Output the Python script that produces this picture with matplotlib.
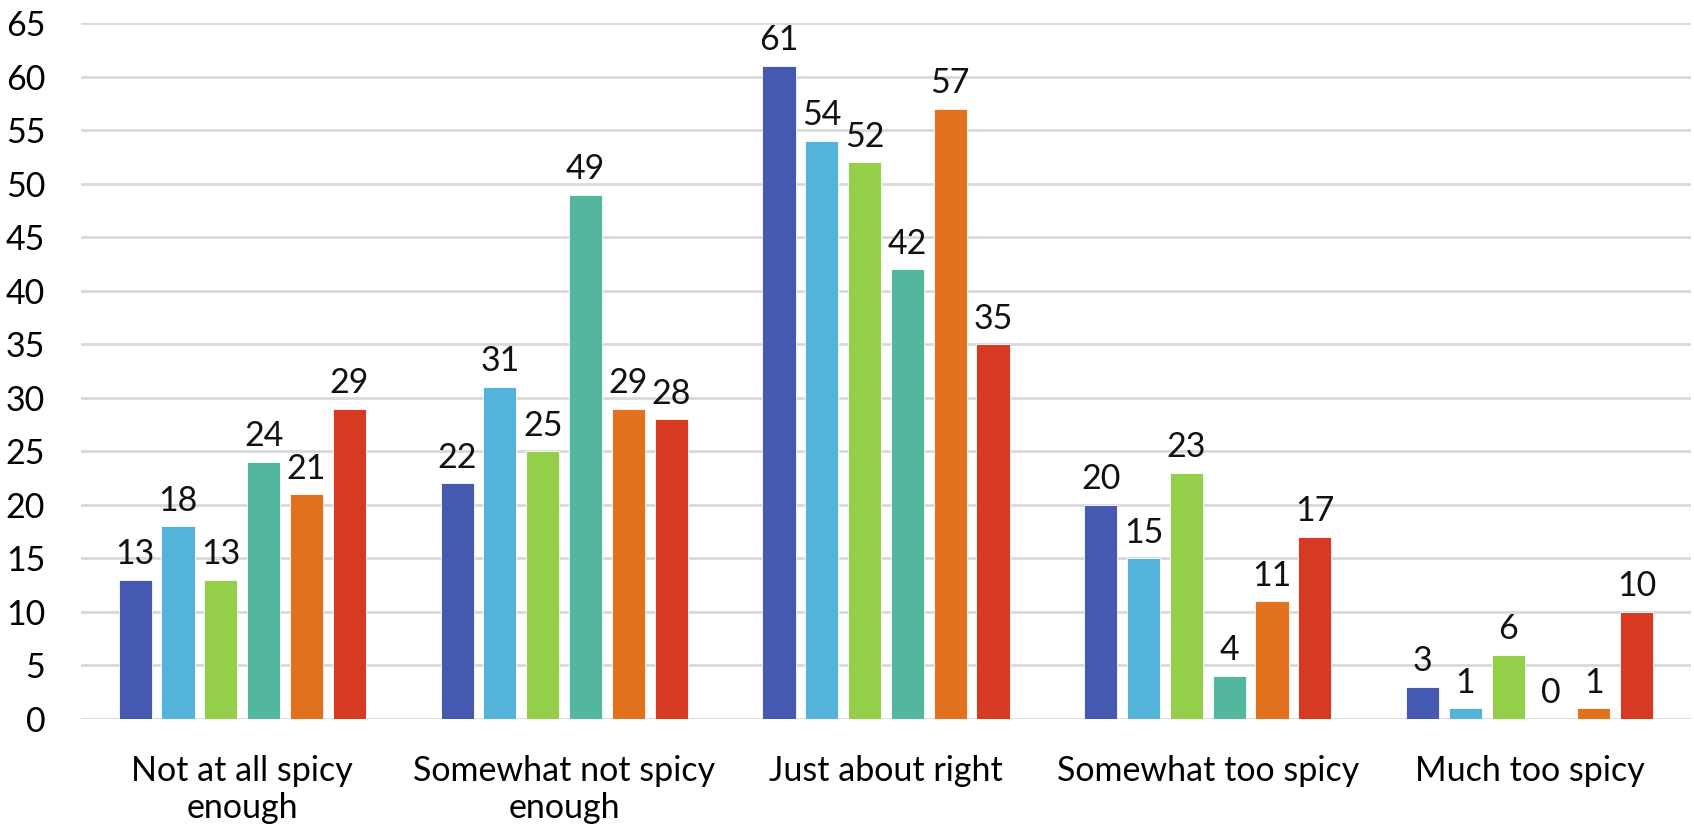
import numpy as np
from matplotlib import pyplot as plt

plt.rcParams['font.family'] = ['Lato', 'DejaVu Sans']

#Survey answers, one list per group of respondents
categories = ['Not at all spicy\nenough', 'Somewhat not spicy\nenough', 'Just about right',
              'Somewhat too spicy', 'Much too spicy']
series = [
    [13, 22, 61, 20, 3],
    [18, 31, 54, 15, 1],
    [13, 25, 52, 23, 6],
    [24, 49, 42, 4, 0],
    [21, 29, 57, 11, 1],
    [29, 28, 35, 17, 10],
]
colors = ['#4559B0', '#53B3D8', '#94CF4A', '#52B79D', '#E2711D', '#D63A22']

fig = plt.figure(figsize=(16.94, 8.32), dpi=100)
ax = fig.add_axes([0.048, 0.136, 0.950, 0.836])

x = np.arange(len(categories))
step = 0.133
width = 0.103
for i, vals in enumerate(series):
    pos = x + (i - 2.5) * step
    bars = ax.bar(pos, vals, width, color=colors[i], edgecolor='white', linewidth=0.6, zorder=3)
    for p, v in zip(pos, vals):
        ax.text(p, v + 0.9, str(v), ha='center', va='bottom', fontsize=24.5, color='#111111')

ax.set_xlim(-0.5, len(categories) - 0.5)
ax.set_ylim(0, 65)
ax.set_yticks(range(0, 66, 5))
ax.yaxis.grid(True, color='#D9D9D9', linewidth=2, zorder=0)
ax.set_xticks(x)
ax.set_xticklabels(categories, fontsize=24.5, linespacing=1.2)
ax.tick_params(axis='y', labelsize=24.5, length=0, pad=26)
ax.tick_params(axis='x', length=0, pad=26)
for s in ax.spines.values():
    s.set_visible(False)

plt.savefig('out.png')
